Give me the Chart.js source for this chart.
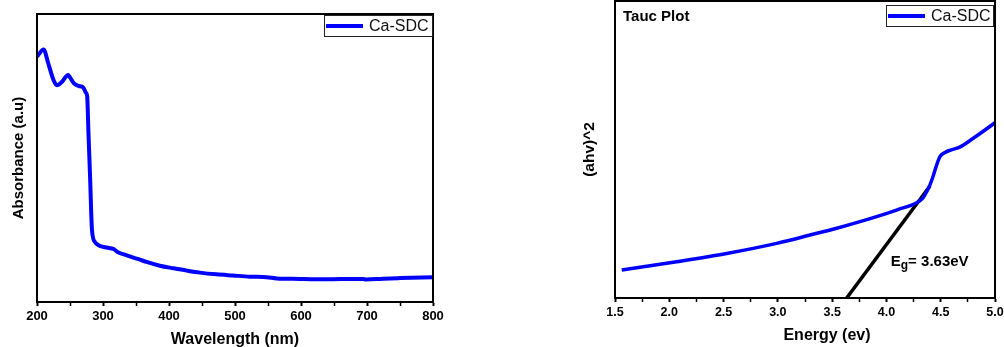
<!DOCTYPE html>
<html>
<head>
<meta charset="utf-8">
<script src="https://cdn.jsdelivr.net/npm/chart.js@4.4.0/dist/chart.umd.min.js"></script>
<style>
  html, body { margin: 0; padding: 0; background: #fff; overflow: hidden; }
  .box { position: absolute; top: 0; height: 347px; }
  #leftBox { left: 0; width: 470px; }
  #rightBox { left: 540px; width: 490px; }
</style>
</head>
<body>
<div class="box" id="leftBox"><canvas id="absChart" width="470" height="347"></canvas></div>
<div class="box" id="rightBox"><canvas id="taucChart" width="490" height="347"></canvas></div>
<script>
// ---- data ----
const wavelength = [200, 210, 217, 225, 230, 238, 247, 250, 256, 263, 270, 274, 276, 278, 280.5, 283.3, 287.9, 292, 296, 306, 316, 322, 336, 346, 356, 366, 386, 407, 427, 447, 472, 497, 523, 548, 563, 598, 623, 649, 674, 694, 699, 724, 750, 800];
const absorbance = [85.2, 87.7, 82.9, 77.1, 75.3, 76.5, 78.8, 78.0, 75.9, 75.0, 74.5, 72.7, 71.5, 58.5, 43.0, 25.0, 20.8, 19.9, 19.4, 18.9, 18.4, 17.4, 16.2, 15.4, 14.7, 13.9, 12.6, 11.7, 10.9, 10.2, 9.6, 9.2, 8.8, 8.6, 8.2, 8.0, 7.9, 7.9, 8.0, 8.0, 7.8, 8.1, 8.3, 8.6];

const energy = [1.562, 2.068, 2.529, 2.989, 3.296, 3.542, 3.91, 4.10, 4.279, 4.335, 4.371, 4.40, 4.43, 4.46, 4.493, 4.54, 4.59, 4.68, 4.80, 5.0];
const tauc = [9.4, 12.2, 15.0, 18.4, 21.2, 23.5, 27.4, 29.7, 32.1, 33.6, 35.8, 38.0, 41.0, 44.5, 47.6, 49.0, 49.8, 50.9, 53.8, 59.0];

const fitEnergy = [3.634, 4.401];
const fitTauc = [0, 37.7];

const wlTicks = [200, 300, 400, 500, 600, 700, 800];
const eTicks = [1.5, 2.0, 2.5, 3.0, 3.5, 4.0, 4.5, 5.0];

const FONT = '"Liberation Sans", Arial, sans-serif';

function pts(xs, ys) {
  return xs.map((x, i) => ({ x: x, y: ys[i] }));
}

// box around plot area
const framePlugin = {
  id: 'frame',
  afterDatasetsDraw(chart) {
    const { ctx, chartArea: a } = chart;
    ctx.save();
    ctx.strokeStyle = '#000';
    ctx.lineWidth = 2;
    ctx.strokeRect(a.left, a.top, a.right - a.left, a.bottom - a.top);
    ctx.restore();
  }
};

// legend with a thin box, top right inside the plot
const boxLegend = {
  id: 'boxLegend',
  afterDraw(chart, args, o) {
    const { ctx, chartArea: a } = chart;
    const ds = chart.data.datasets[0];
    const x = a.right + o.dx - o.w;
    const y = a.top + o.dy;
    ctx.save();
    ctx.fillStyle = '#fff';
    ctx.fillRect(x, y, o.w, o.h);
    ctx.strokeStyle = '#222';
    ctx.lineWidth = 1;
    ctx.strokeRect(x + 0.5, y + 0.5, o.w, o.h);
    ctx.strokeStyle = ds.borderColor;
    ctx.lineWidth = 4;
    ctx.beginPath();
    ctx.moveTo(x + 2, y + o.h / 2 + 0.5);
    ctx.lineTo(x + 39, y + o.h / 2 + 0.5);
    ctx.stroke();
    ctx.fillStyle = '#111';
    ctx.font = '16px ' + FONT;
    ctx.textBaseline = 'middle';
    ctx.fillText(ds.label, x + 45, y + o.h / 2 + 1);
    ctx.restore();
  }
};

function xTickOpts(isMajor) {
  return {
    grid: {
      display: true,
      drawOnChartArea: false,
      drawTicks: true,
      tickLength: 4,
      tickColor: '#000',
      tickWidth: c => (isMajor(c.tick.value) ? 2 : 1.5)
    },
    border: { display: true, color: '#000', width: 2 }
  };
}

// =======================
// ABSORBANCE CHART
// =======================
const isWlMajor = v => wlTicks.includes(v);

new Chart(document.getElementById('absChart'), {
  type: 'line',
  data: {
    datasets: [{
      label: 'Ca-SDC',
      data: pts(wavelength, absorbance),
      borderColor: '#0000ff',
      borderWidth: 4,
      pointRadius: 0,
      cubicInterpolationMode: 'monotone',
      fill: false
    }]
  },
  options: {
    responsive: false,
    animation: false,
    layout: { padding: { left: 0, top: 14, right: 37, bottom: 0 } },
    plugins: {
      legend: { display: false },
      tooltip: { enabled: false },
      boxLegend: { dx: -1, dy: 1, w: 108, h: 21 }
    },
    scales: {
      x: {
        type: 'linear',
        min: 200,
        max: 800,
        ...xTickOpts(isWlMajor),
        ticks: {
          stepSize: 50,
          autoSkip: false,
          maxRotation: 0,
          padding: 3,
          color: '#000',
          font: { family: FONT, size: 13, weight: 'bold' },
          callback: v => (isWlMajor(v) ? String(v) : '')
        },
        title: {
          display: true,
          text: 'Wavelength (nm)',
          color: '#000',
          font: { family: FONT, size: 16, weight: 'bold', lineHeight: 0.875 },
          padding: { top: 0, bottom: 0 }
        },
        afterFit: s => { s.height = 45; }
      },
      y: {
        min: 0,
        max: 100,
        grid: { display: false },
        border: { display: true, color: '#000', width: 2 },
        ticks: { display: false },
        title: {
          display: true,
          text: 'Absorbance (a.u)',
          color: '#000',
          font: { family: FONT, size: 15, weight: 'bold', lineHeight: 1 },
          padding: { top: 11, bottom: 0 }
        },
        afterFit: s => { s.width = 37; }
      }
    }
  },
  plugins: [framePlugin, boxLegend]
});

// =======================
// TAUC CHART
// =======================
const isEMajor = v => eTicks.some(t => Math.abs(t - v) < 1e-6);

const taucLabels = {
  id: 'taucLabels',
  afterDraw(chart) {
    const { ctx, chartArea: a, scales } = chart;
    ctx.save();
    ctx.fillStyle = '#000';
    ctx.textBaseline = 'middle';
    ctx.font = 'bold 15px ' + FONT;
    ctx.fillText('Tauc Plot', a.left + 8, a.top + 16);

    // x axis title sits a bit right of centre in the original
    ctx.textAlign = 'center';
    ctx.font = 'bold 16px ' + FONT;
    ctx.fillText('Energy (ev)', (a.left + a.right) / 2 + 22, 336);

    // band gap label
    ctx.textAlign = 'left';
    ctx.textBaseline = 'alphabetic';
    const ex = scales.x.getPixelForValue(4.04);
    const ey = scales.y.getPixelForValue(10.7);
    ctx.font = 'bold 15px ' + FONT;
    ctx.fillText('E', ex, ey);
    let w = ctx.measureText('E').width;
    ctx.font = 'bold 12px ' + FONT;
    ctx.fillText('g', ex + w, ey + 3);
    w += ctx.measureText('g').width;
    ctx.font = 'bold 15px ' + FONT;
    ctx.fillText('= 3.63eV', ex + w, ey);
    ctx.restore();
  }
};

new Chart(document.getElementById('taucChart'), {
  type: 'line',
  data: {
    datasets: [{
      label: 'Ca-SDC',
      data: pts(energy, tauc),
      borderColor: '#0000ff',
      borderWidth: 3.5,
      pointRadius: 0,
      cubicInterpolationMode: 'monotone',
      fill: false
    }, {
      label: 'fit',
      data: pts(fitEnergy, fitTauc),
      borderColor: '#000',
      borderWidth: 3.5,
      pointRadius: 0,
      fill: false
    }]
  },
  options: {
    responsive: false,
    animation: false,
    layout: { padding: { left: 0, top: 1, right: 35, bottom: 0 } },
    plugins: {
      legend: { display: false },
      tooltip: { enabled: false },
      boxLegend: { dx: -2, dy: 4, w: 107, h: 21 }
    },
    scales: {
      x: {
        type: 'linear',
        min: 1.5,
        max: 5.0,
        ...xTickOpts(isEMajor),
        ticks: {
          stepSize: 0.25,
          autoSkip: false,
          maxRotation: 0,
          padding: 3,
          color: '#000',
          font: { family: FONT, size: 12.5, weight: 'bold' },
          callback: v => (isEMajor(v) ? v.toFixed(1) : '')
        },
        afterFit: s => { s.height = 49; }
      },
      y: {
        min: 0,
        max: 100,
        grid: { display: false },
        border: { display: true, color: '#000', width: 2 },
        ticks: { display: false },
        title: {
          display: true,
          text: '(ahv)^2',
          color: '#000',
          font: { family: FONT, size: 15.5, weight: 'bold', lineHeight: 1 },
          padding: { top: 42, bottom: 0 }
        },
        afterFit: s => { s.width = 75; }
      }
    }
  },
  plugins: [framePlugin, boxLegend, taucLabels]
});
</script>
</body>
</html>
